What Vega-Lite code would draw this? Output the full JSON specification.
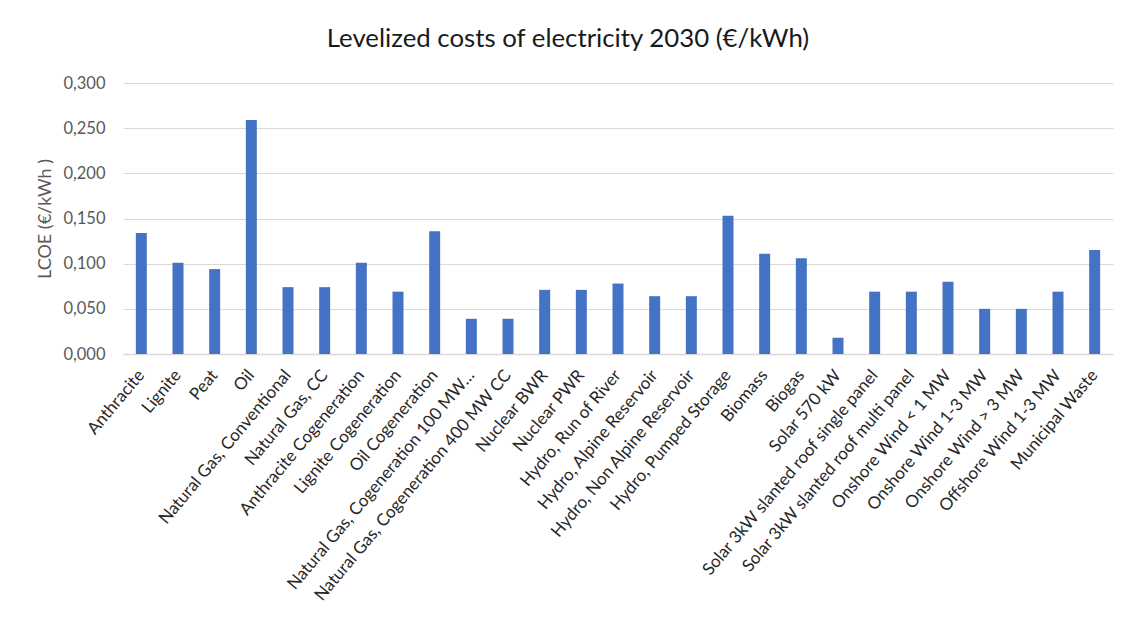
{
  "$schema": "https://vega.github.io/schema/vega-lite/v6.json",
  "autosize": "none",
  "width": 990,
  "height": 271,
  "padding": {"left": 123, "top": 83, "right": 16, "bottom": 270},
  "background": "white",
  "title": {
    "text": "Levelized costs of electricity 2030 (€/kWh)",
    "anchor": "middle",
    "frame": "group",
    "dx": -50,
    "offset": 22,
    "font": "Lato",
    "fontSize": 25.8,
    "fontWeight": "normal",
    "color": "#1a1a1a"
  },
  "data": {
    "values": [
      {"source": "Anthracite", "lcoe": 0.134},
      {"source": "Lignite", "lcoe": 0.101},
      {"source": "Peat", "lcoe": 0.094},
      {"source": "Oil", "lcoe": 0.259},
      {"source": "Natural Gas, Conventional", "lcoe": 0.074},
      {"source": "Natural Gas, CC", "lcoe": 0.074},
      {"source": "Anthracite Cogeneration", "lcoe": 0.101},
      {"source": "Lignite Cogeneration", "lcoe": 0.069},
      {"source": "Oil Cogeneration", "lcoe": 0.136},
      {"source": "Natural Gas, Cogeneration 100 MW…", "lcoe": 0.039},
      {"source": "Natural Gas, Cogeneration 400 MW CC", "lcoe": 0.039},
      {"source": "Nuclear BWR", "lcoe": 0.071},
      {"source": "Nuclear PWR", "lcoe": 0.071},
      {"source": "Hydro, Run of River", "lcoe": 0.078},
      {"source": "Hydro, Alpine Reservoir", "lcoe": 0.064},
      {"source": "Hydro, Non Alpine Reservoir", "lcoe": 0.064},
      {"source": "Hydro, Pumped Storage", "lcoe": 0.153},
      {"source": "Biomass", "lcoe": 0.111},
      {"source": "Biogas", "lcoe": 0.106},
      {"source": "Solar 570 kW", "lcoe": 0.018},
      {"source": "Solar 3kW slanted roof single panel", "lcoe": 0.069},
      {"source": "Solar 3kW slanted roof multi panel", "lcoe": 0.069},
      {"source": "Onshore Wind < 1 MW", "lcoe": 0.080},
      {"source": "Onshore Wind  1-3 MW", "lcoe": 0.050},
      {"source": "Onshore Wind  > 3 MW", "lcoe": 0.050},
      {"source": "Offshore Wind  1-3 MW", "lcoe": 0.069},
      {"source": "Municipal Waste", "lcoe": 0.115}
    ]
  },
  "mark": {"type": "bar", "color": "#4472C4"},
  "encoding": {
    "x": {
      "field": "source",
      "type": "nominal",
      "sort": null,
      "scale": {"paddingInner": 0.7, "paddingOuter": 0.35},
      "axis": {
        "title": null,
        "labelAngle": -50,
        "labelAlign": "right",
        "labelBaseline": "middle",
        "labelPadding": 18,
        "labelFont": "Lato",
        "labelFontSize": 17,
        "labelColor": "#262626",
        "labelLimit": 400,
        "ticks": false,
        "domainColor": "#d9d9d9",
        "domainWidth": 1.5
      }
    },
    "y": {
      "field": "lcoe",
      "type": "quantitative",
      "scale": {"domain": [0, 0.3], "nice": false},
      "axis": {
        "title": "LCOE (€/kWh )",
        "titleFont": "Lato",
        "titleFontSize": 18,
        "titleFontWeight": "normal",
        "titleColor": "#595959",
        "titlePadding": 8,
        "values": [0, 0.05, 0.1, 0.15, 0.2, 0.25, 0.3],
        "labelExpr": "replace(format(datum.value, '.3f'), '.', ',')",
        "labelFont": "Lato",
        "labelFontSize": 16.5,
        "labelColor": "#595959",
        "labelPadding": 18,
        "ticks": false,
        "domain": false,
        "grid": true,
        "gridColor": "#d9d9d9",
        "gridWidth": 1.2
      }
    }
  },
  "config": {"view": {"stroke": null}}
}
